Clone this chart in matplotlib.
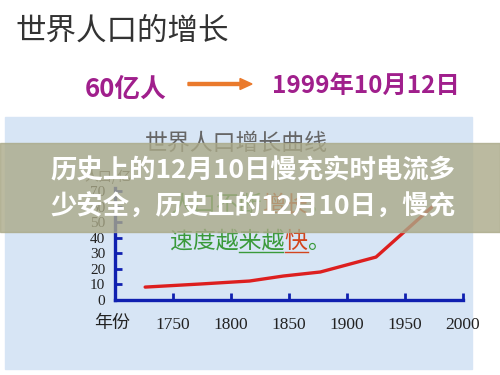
import matplotlib.pyplot as plt
from matplotlib.patches import Rectangle, FancyArrow

plt.rcParams['font.family'] = ['Noto Sans CJK SC', 'DejaVu Sans']

# data
years = [1726, 1774, 1816, 1845, 1877, 1925, 1973]
population = [8.3, 10.3, 12.2, 15.4, 18.0, 27.6, 59.6]   # 亿
xticks = [1750, 1800, 1850, 1900, 1950, 2000]
yticks = [0, 10, 20, 30, 40, 50, 60, 70]

headline = "世界人口的增长"
count_label = "60亿人"
date_label = "1999年10月12日"
chart_title = "世界人口增长曲线"
overlay_lines = ["历史上的12月10日慢充实时电流多", "少安全，历史上的12月10日，慢充"]

fig = plt.figure(figsize=(5, 3.75), dpi=100)
fig.patch.set_facecolor('white')

# background layer in pixel coords
bg = fig.add_axes([0, 0, 1, 1])
bg.set_xlim(0, 500)
bg.set_ylim(375, 0)
bg.axis('off')
bg.add_patch(Rectangle((5, 117), 467, 252, color='#d7e5f5', zorder=0))

bg.text(15, 31, headline, fontsize=22, color='#333333', va='center', ha='left',
        fontweight='light')
bg.text(85, 89, count_label, fontsize=18.5, color='#a01f8c', va='center', ha='left',
        fontweight='bold')
bg.add_patch(FancyArrow(188, 84, 52, 0, width=3, head_width=11, head_length=12,
                        length_includes_head=False, color='#ea7a2c'))
bg.text(272, 86, date_label, fontsize=17.5, color='#a01f8c', va='center', ha='left',
        fontweight='bold')

bg.text(145, 143, chart_title, fontsize=16.5, color='#666666', va='center', ha='left',
        fontweight='light')
bg.text(84, 177, "人口/亿", fontsize=10, color='#555555', va='center', ha='left')

# green note, placed character-block by block
fs = 16.5
cw = fs * 100 / 72
x0 = 170
bg.text(x0, 205, "人口不断", fontsize=fs, color='#3a9a3a', va='center', ha='left')
bg.text(x0 + 4 * cw, 205, "增长", fontsize=fs, color='#d2451e', va='center', ha='left')
bg.text(x0 + 6 * cw, 205, "，", fontsize=fs, color='#3a9a3a', va='center', ha='left')
bg.text(x0, 241, "速度越来越", fontsize=fs, color='#3a9a3a', va='center', ha='left')
bg.text(x0 + 5 * cw, 241, "快", fontsize=fs, color='#d2451e', va='center', ha='left')
bg.text(x0 + 6 * cw, 241, "。", fontsize=fs, color='#3a9a3a', va='center', ha='left')
bg.plot([x0 + 3 * cw, x0 + 5 * cw - 2], [252, 252], color='#3a9a3a', lw=1)
bg.plot([x0 + 5 * cw, x0 + 6 * cw], [252, 252], color='#d2451e', lw=1)
bg.text(112, 323, "年份", fontsize=13, color='#222222', va='center', ha='center',
        fontweight='light')

# the chart itself
ax = fig.add_axes([115 / 500, 75 / 375, 348 / 500, 112 / 375])
ax.patch.set_alpha(0)
ax.plot(years, population, color='#dd1f1f', lw=2.4, solid_capstyle='round')
ax.set_xlim(1700, 2000)
ax.set_ylim(0, 72)
ax.set_xticks(xticks)
ax.set_yticks(yticks)
ax.set_xticklabels([str(x) for x in xticks], family='Liberation Serif', fontsize=12.5,
                   color='#222222')
ax.set_yticklabels([str(y) for y in yticks], family='Liberation Serif', fontsize=11,
                   color='#222222')
for s in ['top', 'right']:
    ax.spines[s].set_visible(False)
for s in ['left', 'bottom']:
    ax.spines[s].set_color('#1020b0')
    ax.spines[s].set_linewidth(2.4)
ax.tick_params(axis='x', direction='in', length=5, width=2, color='#1020b0', pad=12)
ax.tick_params(axis='y', direction='in', length=5, width=2, color='#1020b0', pad=7)

# semi-transparent banner on top
top = fig.add_axes([0, 0, 1, 1])
top.set_xlim(0, 500)
top.set_ylim(375, 0)
top.axis('off')
top.patch.set_alpha(0)
top.add_patch(Rectangle((0, 143), 500, 89, color='#aaa988', alpha=0.8))
top.text(50, 171, overlay_lines[0], fontsize=19, color='white', fontweight='bold',
         va='center', ha='left')
top.text(50, 207, overlay_lines[1], fontsize=19, color='white', fontweight='bold',
         va='center', ha='left')

fig.savefig('out.png', dpi=100)
